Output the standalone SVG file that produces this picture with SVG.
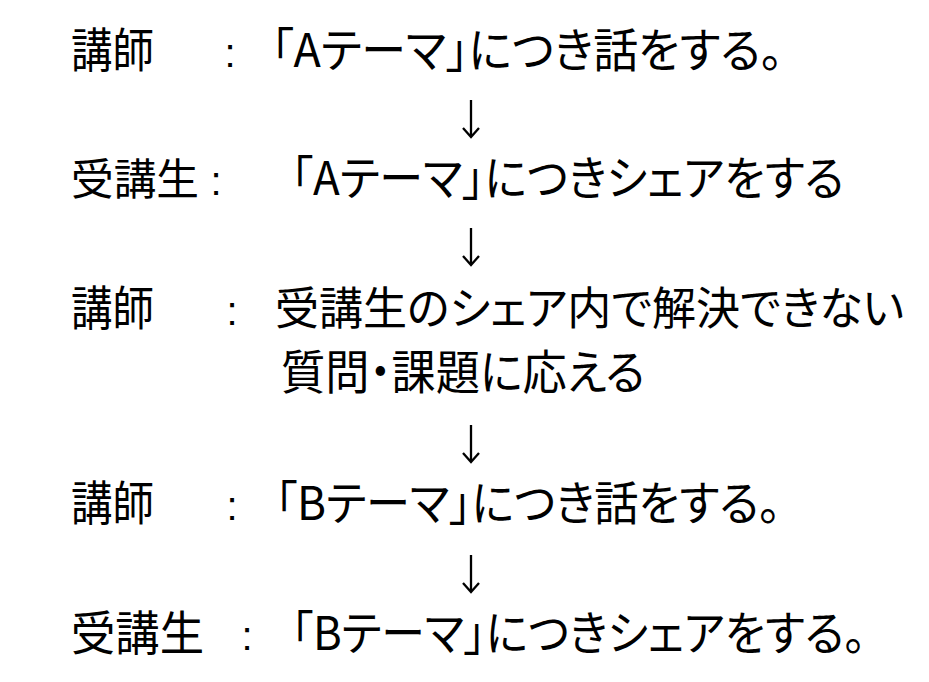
<svg xmlns="http://www.w3.org/2000/svg" width="929" height="682" viewBox="0 0 929 682">
<style>
text{font-family:"Noto Sans CJK JP","Noto Sans CJK SC",sans-serif;font-size:47px;fill:#000;font-feature-settings:"palt" 1;}
text.c{font-family:"Liberation Sans",Arial,sans-serif;font-size:40px;text-anchor:middle;}
text.s{font-size:45px;}
text.n{font-size:43px;}
.arr{fill:none;stroke:#000;stroke-width:2.3;stroke-linecap:butt;stroke-linejoin:miter;}
</style>
<rect width="929" height="682" fill="#fff"/>
<g id="step1">
<text x="71" y="67" textLength="83" lengthAdjust="spacingAndGlyphs">講師</text>
<text class="c" x="230" y="67">:</text>
<text x="271" y="67" textLength="512" lengthAdjust="spacingAndGlyphs">「Aテーマ」につき話をする。</text>
</g>
<g id="step2">
<text class="n" x="71" y="195" textLength="128" lengthAdjust="spacingAndGlyphs">受講生</text>
<text class="c" x="216" y="195">:</text>
<text x="291" y="195" textLength="553" lengthAdjust="spacingAndGlyphs">「Aテーマ」につきシェアをする</text>
</g>
<g id="step3">
<text x="71" y="325" textLength="83" lengthAdjust="spacingAndGlyphs">講師</text>
<text class="c" x="232" y="325">:</text>
<text class="s" x="275" y="325" textLength="629" lengthAdjust="spacingAndGlyphs">受講生のシェア内で解決できない</text>
<text x="281" y="389" textLength="364" lengthAdjust="spacingAndGlyphs">質問・課題に応える</text>
</g>
<g id="step4">
<text x="71" y="520" textLength="83" lengthAdjust="spacingAndGlyphs">講師</text>
<text class="c" x="232" y="520">:</text>
<text x="275" y="520" textLength="506" lengthAdjust="spacingAndGlyphs">「Bテーマ」につき話をする。</text>
</g>
<g id="step5">
<text x="71" y="650" textLength="133" lengthAdjust="spacingAndGlyphs">受講生</text>
<text class="c" x="247" y="650">:</text>
<text x="291" y="650" textLength="575" lengthAdjust="spacingAndGlyphs">「Bテーマ」につきシェアをする。</text>
</g>
<g id="connectors">
<path class="arr" d="M471 100V137M463 128L471 137L479 128"/>
<path class="arr" d="M471 228V265M463 256L471 265L479 256"/>
<path class="arr" d="M471 425V462M463 453L471 462L479 453"/>
<path class="arr" d="M471 555V592M463 583L471 592L479 583"/>
</g>
</svg>
